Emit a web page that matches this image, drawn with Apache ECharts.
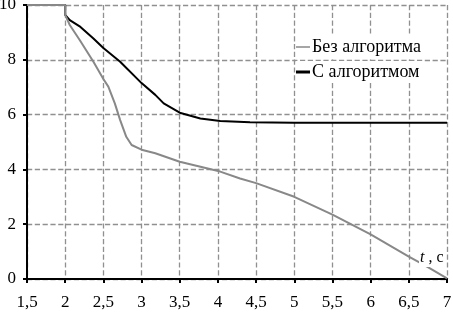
<!DOCTYPE html>
<html>
<head>
<meta charset="utf-8">
<script src="https://cdn.jsdelivr.net/npm/echarts@6/dist/echarts.min.js"></script>
<style>html,body{margin:0;padding:0;background:#fff;}#c{width:453px;height:314px;}</style>
</head>
<body>
<div id="c"></div>
<script>
var xTicks = [1.5, 2, 2.5, 3, 3.5, 4, 4.5, 5, 5.5, 6, 6.5, 7];
var yTicks = [0, 2, 4, 6, 8, 10];
var seriesNames = ['Без алгоритма', 'С алгоритмом'];
var withoutT = [1.5, 2, 2.0, 2.06, 2.19, 2.37, 2.5, 2.565, 2.65, 2.72, 2.8, 2.87, 3.0, 3.18, 3.5, 4.03, 4.29, 4.5, 5, 5.5, 6, 6.5, 6.71, 7];
var withoutV = [10, 10, 9.64, 9.27, 8.72, 7.93, 7.3, 7.02, 6.41, 5.8, 5.19, 4.89, 4.72, 4.59, 4.28, 3.92, 3.67, 3.5, 3.0, 2.35, 1.63, 0.82, 0.5, 0.02];
var withT = [1.5, 2, 2.0, 2.06, 2.2, 2.37, 2.5, 2.72, 3.0, 3.18, 3.29, 3.5, 3.77, 4.03, 4.42, 5, 6, 7];
var withV = [10, 10, 9.64, 9.45, 9.2, 8.78, 8.43, 7.93, 7.15, 6.72, 6.41, 6.07, 5.86, 5.77, 5.72, 5.7, 5.7, 5.7];
var axisName = 't , c';

function zip(a, b) { return a.map(function (v, i) { return [v, b[i]]; }); }

var FONT = 'Liberation Serif';
var chart = echarts.init(document.getElementById('c'), null, {renderer: 'canvas'});
chart.setOption({
  animation: false,
  backgroundColor: '#fff',
  grid: {left: 27, right: 6, top: 5, bottom: 35, containLabel: false, outerBoundsMode: 'none'},
  xAxis: {
    type: 'value', min: 1.5, max: 7, interval: 0.5,
    axisLine: {lineStyle: {color: '#000', width: 2}},
    axisTick: {show: true, length: 4, lineStyle: {color: '#000', width: 2}},
    axisLabel: {margin: 15, color: '#000', fontFamily: FONT, fontSize: 17,
      formatter: function (v) { return String(v).replace('.', ','); }},
    splitLine: {show: true, lineStyle: {color: '#909090', width: 1.3, type: 'dashed'}}
  },
  yAxis: {
    type: 'value', min: 0, max: 10, interval: 2,
    axisLine: {show: true, lineStyle: {color: '#000', width: 2}},
    axisTick: {show: true, length: 4, lineStyle: {color: '#000', width: 2}},
    axisLabel: {margin: 11, color: '#000', fontFamily: FONT, fontSize: 17},
    splitLine: {show: true, lineStyle: {color: '#909090', width: 1.3, type: 'dashed'}}
  },
  legend: [{
    data: [{name: seriesNames[0], icon: 'rect'}],
    left: 296, top: 36, itemWidth: 14, itemHeight: 1.5, itemGap: 0,
    backgroundColor: '#fff', padding: [2, 4, 2, 0],
    textStyle: {fontFamily: FONT, fontSize: 18, color: '#000', padding: [0, 0, 0, -3]}
  }, {
    data: [{name: seriesNames[1], icon: 'rect'}],
    left: 296, top: 61, itemWidth: 14, itemHeight: 3, itemGap: 0,
    backgroundColor: '#fff', padding: [2, 4, 2, 0],
    textStyle: {fontFamily: FONT, fontSize: 18, color: '#000', padding: [0, 0, 0, -3]}
  }],
  graphic: [{
    type: 'text', left: 419, top: 249, z: 100,
    style: {text: '{i|t} , c', fill: '#000', backgroundColor: '#fff', padding: [1, 1, 1, 1],
      rich: {i: {fontStyle: 'italic', fontFamily: FONT, fontSize: 16}},
      fontFamily: FONT, fontSize: 16}
  }],
  series: [{
    name: seriesNames[1], type: 'line', data: zip(withT, withV), symbol: 'none',
    lineStyle: {color: '#000', width: 2}, itemStyle: {color: '#000'}, z: 2
  }, {
    name: seriesNames[0], type: 'line', data: zip(withoutT, withoutV), symbol: 'none',
    lineStyle: {color: '#888', width: 2}, itemStyle: {color: '#888'}, z: 3
  }]
});
</script>
</body>
</html>
